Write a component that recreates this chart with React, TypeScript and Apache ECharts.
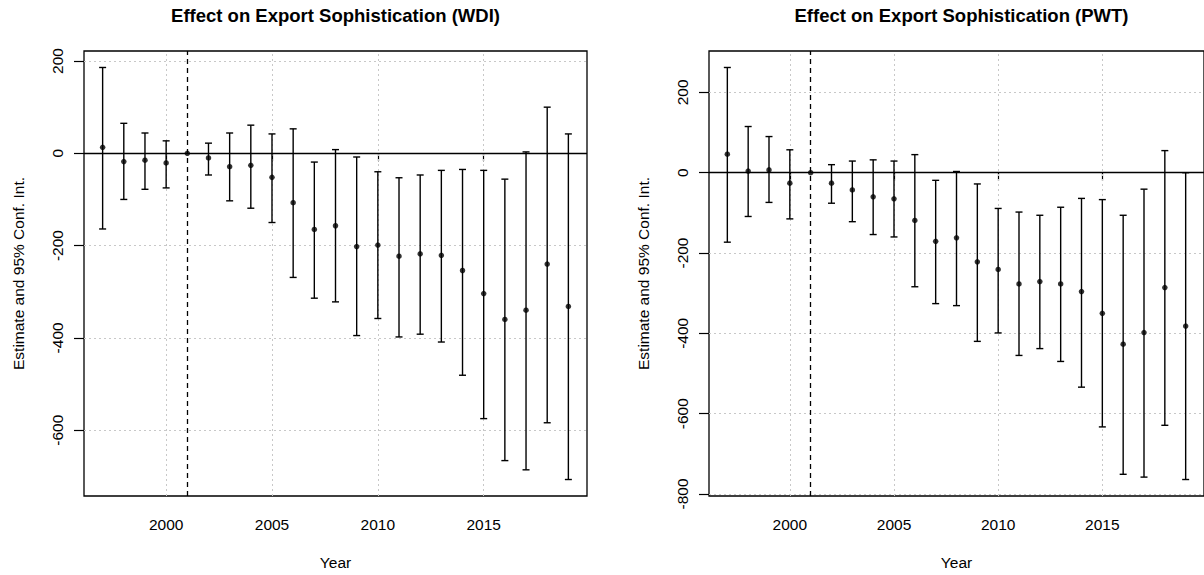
import React, { useEffect, useRef } from "react";
import * as echarts from "echarts";

const years = [1997, 1998, 1999, 2000, 2001, 2002, 2003, 2004, 2005, 2006, 2007, 2008, 2009, 2010, 2011, 2012, 2013, 2014, 2015, 2016, 2017, 2018, 2019];
const xTicks = [2000, 2005, 2010, 2015];
const wdiTicks = [200, 0, -200, -400, -600];
const pwtTicks = [200, 0, -200, -400, -600, -800];
const refYear = 2001;

const wdiEst = [13, -18, -15, -21, 0, -10, -29, -26, -52, -107, -165, -157, -202, -199, -223, -218, -221, -254, -304, -360, -340, -240, -332];
const wdiLo = [-164, -100, -78, -75, 0, -47, -103, -119, -150, -269, -314, -322, -395, -358, -398, -392, -409, -481, -575, -666, -686, -584, -707];
const wdiHi = [186, 65, 44, 27, 0, 22, 44, 61, 42, 53, -19, 8, -8, -40, -53, -47, -37, -35, -37, -56, 3, 100, 42];

const pwtEst = [46, 4, 7, -26, 0, -26, -43, -60, -65, -119, -171, -162, -222, -241, -277, -271, -277, -296, -350, -427, -398, -286, -382];
const pwtLo = [-173, -109, -74, -115, 0, -76, -122, -154, -160, -284, -326, -331, -420, -399, -455, -438, -470, -534, -633, -751, -758, -629, -764];
const pwtHi = [262, 115, 90, 57, 0, 20, 29, 32, 29, 45, -19, 3, -28, -89, -98, -106, -86, -64, -67, -106, -41, 55, 0];

const titles = ["Effect on Export Sophistication (WDI)", "Effect on Export Sophistication (PWT)"];
const xTitle = "Year";
const yTitle = "Estimate and 95% Conf. Int.";

const FONT = "'Liberation Sans', Arial, sans-serif";

function rExtent(lo: number[], hi: number[]): [number, number] {
  const a = Math.min(...lo);
  const b = Math.max(...hi);
  const r = b - a;
  return [a - 0.04 * r, b + 0.04 * r];
}

export default function App() {
  const ref = useRef<HTMLDivElement>(null);

  useEffect(() => {
    if (!ref.current) return;
    const chart = echarts.init(ref.current, undefined, { renderer: "svg" });

    const xMin = years[0] - 0.04 * (years[years.length - 1] - years[0]);
    const xMax = years[years.length - 1] + 0.04 * (years[years.length - 1] - years[0]);

    const panels = [
      { est: wdiEst, lo: wdiLo, hi: wdiHi, ticks: wdiTicks, left: 84, width: 503 },
      { est: pwtEst, lo: pwtLo, hi: pwtHi, ticks: pwtTicks, left: 709, width: 505 },
    ];
    const top = 51;
    const height = 447;

    const grids: any[] = [];
    const xAxes: any[] = [];
    const yAxes: any[] = [];
    const series: any[] = [];
    const graphics: any[] = [];

    panels.forEach((p, i) => {
      const [yMin, yMax] = rExtent(p.lo, p.hi);
      grids.push({
        left: p.left,
        top,
        width: p.width,
        height,
        show: true,
        borderColor: "#000",
        borderWidth: 1.3,
        backgroundColor: "transparent",
        containLabel: false,
      });
      xAxes.push({
        type: "value",
        gridIndex: i,
        min: xMin,
        max: xMax,
        axisLine: { show: false },
        axisTick: { show: true, customValues: xTicks, length: 8, inside: false, lineStyle: { color: "#000", width: 1.2 } },
        axisLabel: { show: true, customValues: xTicks, margin: 20, color: "#000", fontSize: 15.5, fontFamily: FONT, formatter: (v: number) => String(v) },
        splitLine: { show: false },
        name: xTitle,
        nameLocation: "middle",
        nameGap: 58,
        nameTextStyle: { color: "#000", fontSize: 15.5, fontFamily: FONT },
      });
      yAxes.push({
        type: "value",
        gridIndex: i,
        min: yMin,
        max: yMax,
        axisLine: { show: false },
        axisTick: { show: true, customValues: p.ticks, length: 10, inside: false, lineStyle: { color: "#000", width: 1.2 } },
        axisLabel: { show: true, customValues: p.ticks, rotate: 90, margin: 19, color: "#000", fontSize: 15.5, fontFamily: FONT, formatter: (v: number) => String(v) },
        splitLine: { show: false },
        name: yTitle,
        nameLocation: "middle",
        nameGap: 58,
        nameRotate: 90,
        nameTextStyle: { color: "#000", fontSize: 15.5, fontFamily: FONT },
      });

      // grid lines (dotted light gray)
      series.push({
        type: "scatter",
        xAxisIndex: i,
        yAxisIndex: i,
        data: [],
        z: 1,
        silent: true,
        markLine: {
          silent: true,
          z: 1,
          symbol: "none",
          label: { show: false },
          animation: false,
          lineStyle: { color: "#c8c8c8", type: [2, 3], width: 1 },
          data: [
            ...xTicks.map((v) => ({ xAxis: v })),
            ...p.ticks.map((v) => ({ yAxis: v })),
          ],
        },
      });
      // zero line and reference year dashed line
      series.push({
        type: "scatter",
        xAxisIndex: i,
        yAxisIndex: i,
        data: [],
        z: 2,
        silent: true,
        markLine: {
          silent: true,
          z: 2,
          symbol: "none",
          label: { show: false },
          animation: false,
          data: [
            { yAxis: 0, lineStyle: { color: "#000", type: "solid", width: 1.3 } },
            { xAxis: refYear, lineStyle: { color: "#000", type: [5, 4], width: 1.3 } },
          ],
        },
      });
      // error bars
      series.push({
        type: "custom",
        xAxisIndex: i,
        yAxisIndex: i,
        z: 6,
        silent: true,
        data: years.map((y, k) => [y, p.lo[k], p.hi[k]]),
        encode: { x: 0, y: [1, 2] },
        renderItem: (params: any, api: any) => {
          const x = api.value(0);
          const lo = api.value(1);
          const hi = api.value(2);
          if (lo === hi) return null;
          const a = api.coord([x, lo]);
          const b = api.coord([x, hi]);
          const w = 3.5;
          const style = { stroke: "#000", lineWidth: 1.4 };
          return {
            type: "group",
            children: [
              { type: "line", shape: { x1: a[0], y1: a[1], x2: b[0], y2: b[1] }, style },
              { type: "line", shape: { x1: a[0] - w, y1: a[1], x2: a[0] + w, y2: a[1] }, style },
              { type: "line", shape: { x1: b[0] - w, y1: b[1], x2: b[0] + w, y2: b[1] }, style },
            ],
          };
        },
      });
      // point estimates
      series.push({
        type: "scatter",
        xAxisIndex: i,
        yAxisIndex: i,
        z: 7,
        silent: true,
        symbol: "circle",
        symbolSize: 5.5,
        itemStyle: { color: "#000" },
        data: years.map((y, k) => [y, p.est[k]]),
      });

      graphics.push({
        type: "text",
        x: p.left + p.width / 2,
        y: 15,
        style: {
          text: titles[i],
          align: "center",
          verticalAlign: "middle",
          fontSize: 18.5,
          fontWeight: "bold",
          fontFamily: FONT,
          fill: "#000",
        },
      });
    });

    chart.setOption({
      animation: false,
      backgroundColor: "#fff",
      grid: grids,
      xAxis: xAxes,
      yAxis: yAxes,
      series,
      graphic: graphics,
    });

    return () => chart.dispose();
  }, []);

  return (
    <div
      ref={ref}
      style={{ position: "absolute", left: 0, top: 0, width: 1204, height: 575, background: "#fff" }}
    />
  );
}
